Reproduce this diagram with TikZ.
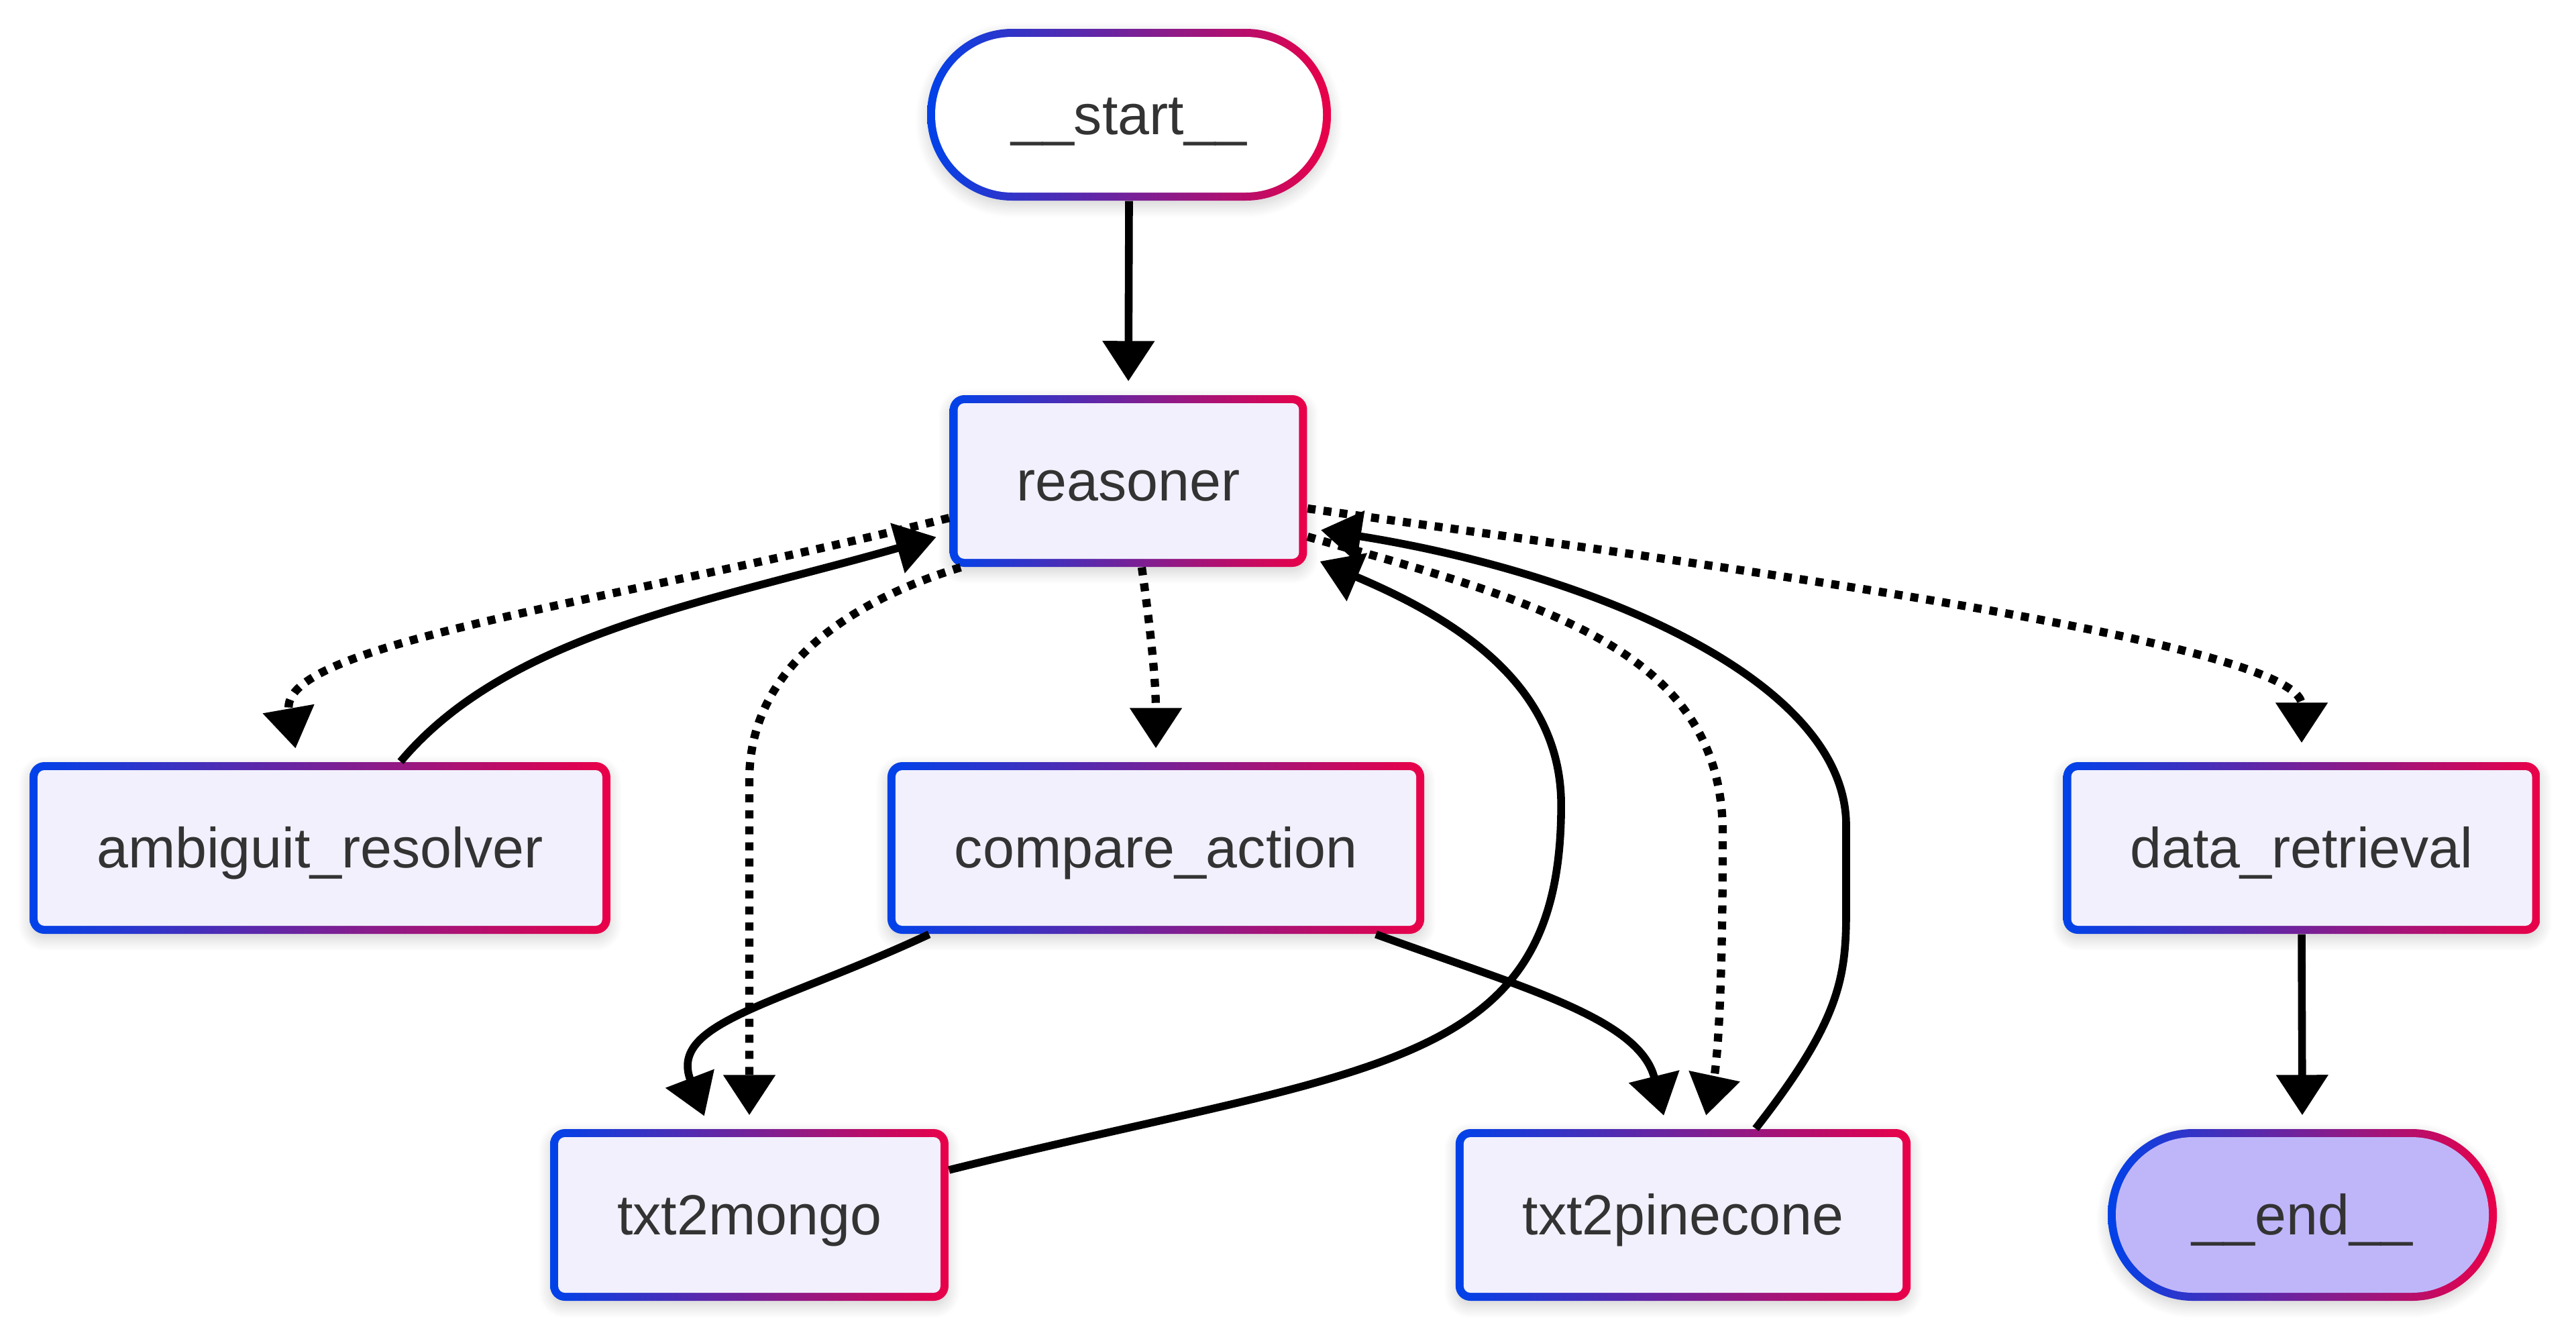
\documentclass[tikz,border=0pt]{standalone}
\usepackage{fontspec}
\setmainfont{Liberation Sans}
\usetikzlibrary{arrows.meta,shadows.blur}

\definecolor{gblue}{RGB}{0,66,234}
\definecolor{gred}{RGB}{234,0,72}
\definecolor{boxfill}{RGB}{241,240,252}
\definecolor{endfill}{RGB}{191,182,250}
\definecolor{txtgray}{RGB}{51,51,51}

\newcommand{\gradFill}[2]{\fill[#1, rounded corners=#2] ([shift={(0.12cm,0.12cm)}]path picture bounding box.south west) rectangle ([shift={(-0.12cm,-0.12cm)}]path picture bounding box.north east);}

\tikzstyle{gradBorder}=[left color=gblue, right color=gred, text=txtgray, font=\fontsize{24}{28}\selectfont, text height=0.78cm, text depth=0.2cm, minimum height=2.56cm, inner ysep=0.3cm, blur shadow={shadow xshift=0pt, shadow yshift=-0.08cm, shadow blur radius=0.18cm, shadow opacity=18, shadow blur steps=10}]
\tikzstyle{baseNode}=[gradBorder, rounded corners=0.22cm, inner xsep=1cm, path picture={\gradFill{boxfill}{0.1cm}}]
\tikzstyle{startNode}=[gradBorder, rounded corners=1.27cm, minimum width=6.02cm, path picture={\gradFill{white}{1.15cm}}]
\tikzstyle{endNode}=[gradBorder, rounded corners=1.27cm, minimum width=5.8cm, path picture={\gradFill{endfill}{1.15cm}}]
\tikzstyle{transition}=[-{Triangle[width=0.75cm,length=0.6cm]}, line width=3.3pt, shorten >=0.2cm]
\tikzstyle{condTransition}=[transition, line width=3.5pt, dash pattern=on 3.4pt off 3.4pt]

\begin{document}
\begin{tikzpicture}

    \useasboundingbox (0,0) rectangle (38.4,-19.86);

    \node[startNode] (st) at (16.83, -1.71) {\_\_start\_\_};
    \node[baseNode] (rs) at (16.82, -7.17) {reasoner};
    \node[baseNode] (ar) at (4.77, -12.64) {ambiguit\_resolver};
    \node[baseNode] (ca) at (17.23, -12.64) {compare\_action};
    \node[baseNode] (dr) at (34.31, -12.64) {data\_retrieval};
    \node[baseNode] (tm) at (11.17, -18.11) {txt2mongo};
    \node[baseNode] (tp) at (25.09, -18.11) {txt2pinecone};
    \node[endNode] (en) at (34.32, -18.11) {\_\_end\_\_};


    \draw[transition] (st.south) -- (rs.north);
    \draw[condTransition] ([yshift=-0.55cm]rs.west) to[out=194, in=100, out distance=5.27cm, in distance=1.78cm] ([xshift=-0.33cm]ar.north);
    \draw[transition] ([xshift=1.2cm]ar.north) to[out=50, in=196, out distance=2.5cm, in distance=3.7cm] ([yshift=-0.78cm]rs.west);
    \draw[condTransition] ([xshift=-2.5cm]rs.south) to[out=197, in=90, out distance=1.5cm, in distance=1.8cm] ([yshift=5.2cm]tm.north) -- (tm.north);
    \draw[condTransition] ([xshift=0.2cm]rs.south) to[out=-82, in=90] (ca.north);
    \draw[condTransition,shorten >=0.28cm] ([yshift=-0.41cm]rs.east) to[out=-8, in=90, out distance=6cm, in distance=1.78cm] (dr.north);
    \draw[condTransition] ([yshift=-0.83cm]rs.east) to[out=-16, in=90, out distance=3.5cm, in distance=2.8cm] ([shift={(0.59cm,4.4cm)}]tp.north) to[out=-90, in=78, out distance=3cm, in distance=0.8cm] ([xshift=0.3cm]tp.north);
    \draw[transition] ([xshift=-3.38cm]ca.south) to[out=205, in=111, out distance=2.5cm, in distance=1.7cm] ([xshift=-0.6cm]tm.north);
    \draw[transition] ([xshift=3.28cm]ca.south) to[out=-20, in=104, out distance=2.3cm, in distance=1.7cm] ([xshift=-0.24cm]tp.north);
    \draw[transition] ([yshift=0.67cm]tm.east) to[out=14, in=-90, out distance=6.5cm, in distance=4cm] ([shift={(3.78cm,-4.83cm)}]rs.east) to[out=90, in=-23, out distance=1.8cm, in distance=2.4cm] ([yshift=-1.12cm]rs.east);
    \draw[transition] ([xshift=1.08cm]tp.north) to[out=52, in=-90, out distance=2cm, in distance=1cm] ([shift={(2.43cm,3.22cm)}]tp.north) -- ([shift={(2.43cm,4.52cm)}]tp.north) to[out=90, in=-9, out distance=2.2cm, in distance=4.2cm] ([yshift=-0.7cm]rs.east);
    \draw[transition] (dr.south) -- (en.north);

\end{tikzpicture}
\end{document}
